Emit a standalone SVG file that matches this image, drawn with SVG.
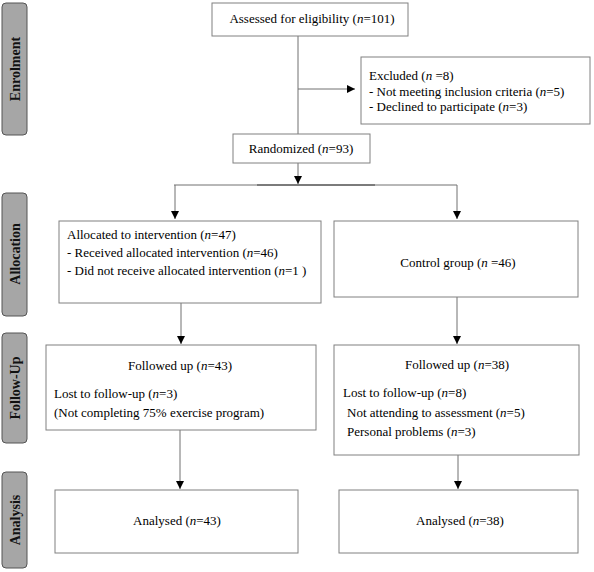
<svg xmlns="http://www.w3.org/2000/svg" width="594" height="572" viewBox="0 0 594 572">
<defs>
<marker id="ah" viewBox="0 0 10 10" refX="10" refY="5" markerWidth="8" markerHeight="8" markerUnits="userSpaceOnUse" orient="auto">
<path d="M0,0 L10,5 L0,10 Z" fill="#000"/>
</marker>
</defs>
<style>
.box{fill:#fff;stroke:#808080;stroke-width:1}
.lab{fill:#a6a6a6;stroke:#555;stroke-width:1}
.t{font-family:"Liberation Serif","Times New Roman",serif;font-size:13px;fill:#000}
.c{text-anchor:middle}
.lt{font-family:"Liberation Serif","Times New Roman",serif;font-size:14px;font-weight:bold;fill:#111;text-anchor:middle}
.ln{stroke:#707070;stroke-width:1;fill:none}
.ar{stroke:#707070;stroke-width:1;fill:none;marker-end:url(#ah)}
.i{font-style:italic}
</style>
<rect width="594" height="572" fill="#fff"/>

<g id="label-enrolment"><rect class="lab" x="2" y="3" width="25" height="132" rx="4"/><text class="lt" transform="translate(19.5,69) rotate(-90)">Enrolment</text></g>
<g id="label-allocation"><rect class="lab" x="2" y="193" width="25" height="123" rx="4"/><text class="lt" transform="translate(19.5,254) rotate(-90)">Allocation</text></g>
<g id="label-followup"><rect class="lab" x="2" y="333" width="25" height="110" rx="4"/><text class="lt" transform="translate(19.5,388) rotate(-90)">Follow-Up</text></g>
<g id="label-analysis"><rect class="lab" x="2" y="472" width="25" height="96" rx="4"/><text class="lt" transform="translate(19.5,520) rotate(-90)">Analysis</text></g>

<g id="connectors">
<line class="ln" x1="298" y1="36" x2="298" y2="134"/>
<line class="ar" x1="298" y1="89" x2="355" y2="89"/>
<line class="ar" x1="298" y1="163" x2="298" y2="184"/>
<line class="ln" x1="174" y1="185" x2="457" y2="185"/>
<line x1="257" y1="185" x2="375" y2="185" stroke="#404040" stroke-width="1.2"/>
<line class="ar" x1="175" y1="185" x2="175" y2="219"/>
<line class="ar" x1="457" y1="185" x2="457" y2="219"/>
<line class="ar" x1="181" y1="303" x2="181" y2="344"/>
<line class="ar" x1="457" y1="297" x2="457" y2="344"/>
<line class="ar" x1="180" y1="430" x2="180" y2="489"/>
<line class="ar" x1="458" y1="455" x2="458" y2="489"/>
</g>

<g id="assessed"><rect class="box" x="212" y="3" width="196" height="33"/><text class="t c" x="312" y="23">Assessed for eligibility (<tspan class="i">n</tspan>=101)</text></g>
<g id="excluded"><rect class="box" x="361" y="57" width="229" height="67"/>
<text class="t" x="369" y="80">Excluded (<tspan class="i">n</tspan> =8)</text>
<text class="t" x="369" y="96">- Not meeting inclusion criteria (<tspan class="i">n</tspan>=5)</text>
<text class="t" x="369" y="111">- Declined to participate (<tspan class="i">n</tspan>=3)</text></g>
<g id="randomized"><rect class="box" x="233" y="134" width="137" height="29"/><text class="t c" x="301" y="153">Randomized (<tspan class="i">n</tspan>=93)</text></g>

<g id="intervention"><rect class="box" x="59" y="221" width="262" height="82"/>
<text class="t" x="67" y="239">Allocated to intervention (<tspan class="i">n</tspan>=47)</text>
<text class="t" x="67" y="257">- Received allocated intervention (<tspan class="i">n</tspan>=46)</text>
<text class="t" x="67" y="275">- Did not receive allocated intervention (<tspan class="i">n</tspan>=1 )</text></g>
<g id="control"><rect class="box" x="334" y="221" width="244" height="76"/><text class="t c" x="458" y="267">Control group (<tspan class="i">n</tspan> =46)</text></g>

<g id="followup-int"><rect class="box" x="46" y="345" width="270" height="85"/>
<text class="t c" x="180" y="370">Followed up (<tspan class="i">n</tspan>=43)</text>
<text class="t" x="54" y="398">Lost to follow-up (<tspan class="i">n</tspan>=3)</text>
<text class="t" x="54" y="417">(Not completing 75% exercise program)</text></g>
<g id="followup-ctrl"><rect class="box" x="334" y="345" width="245" height="110"/>
<text class="t c" x="457" y="369">Followed up (<tspan class="i">n</tspan>=38)</text>
<text class="t" x="343" y="397">Lost to follow-up (<tspan class="i">n</tspan>=8)</text>
<text class="t" x="347" y="417">Not attending to assessment (<tspan class="i">n</tspan>=5)</text>
<text class="t" x="347" y="436">Personal problems (<tspan class="i">n</tspan>=3)</text></g>

<g id="analysis-int"><rect class="box" x="55" y="490" width="243" height="63"/><text class="t c" x="177" y="525">Analysed (<tspan class="i">n</tspan>=43)</text></g>
<g id="analysis-ctrl"><rect class="box" x="339" y="490" width="239" height="63"/><text class="t c" x="460" y="525">Analysed (<tspan class="i">n</tspan>=38)</text></g>
</svg>
